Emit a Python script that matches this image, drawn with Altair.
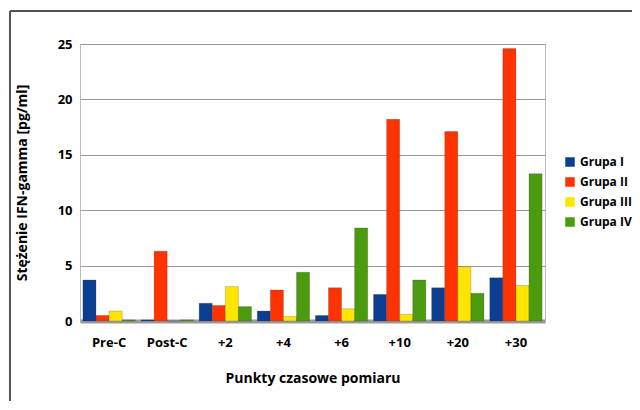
import altair as alt
import pandas as pd

categories = ["Pre-C", "Post-C", "+2", "+4", "+6", "+10", "+20", "+30"]
groups = ["Grupa I", "Grupa II", "Grupa III", "Grupa IV"]
grupa_1 = [3.7, 0.1, 1.6, 0.9, 0.5, 2.4, 3.0, 3.9]
grupa_2 = [0.5, 6.3, 1.4, 2.8, 3.0, 18.2, 17.1, 24.6]
grupa_3 = [0.9, 0.0, 3.1, 0.4, 1.1, 0.6, 4.9, 3.2]
grupa_4 = [0.1, 0.1, 1.3, 4.4, 8.4, 3.7, 2.5, 13.3]
colors = ["#0b3d91", "#ff3300", "#ffe600", "#4c9a0e"]

rows = []
for g, vals in zip(groups, [grupa_1, grupa_2, grupa_3, grupa_4]):
    for c, v in zip(categories, vals):
        rows.append({"cat": c, "grp": g, "val": v})
df = pd.DataFrame(rows)

font = "Open Sans"

bars = alt.Chart(df).mark_bar(stroke="#333333", strokeWidth=0.4, strokeOpacity=0.6).encode(
    x=alt.X("cat:N", sort=categories, title="Punkty czasowe pomiaru",
            scale=alt.Scale(paddingInner=0.1, paddingOuter=0.05),
            axis=alt.Axis(labelAngle=0, labelFont=font, labelFontWeight="bold", labelFontSize=13,
                          labelColor="#000", labelPadding=15, ticks=False, labelOverlap=False,
                          domainColor="#999999", domainWidth=4,
                          titleFont=font, titleFontWeight="bold", titleFontSize=14,
                          titleColor="#000", titlePadding=22)),
    xOffset=alt.XOffset("grp:N", sort=groups),
    y=alt.Y("val:Q", title="Stężenie IFN-gamma [pg/ml]",
            scale=alt.Scale(domain=[0, 25]),
            axis=alt.Axis(values=[0, 5, 10, 15, 20, 25], labelFont=font, labelFontWeight="bold",
                          labelFontSize=13, labelColor="#000", labelPadding=8, ticks=False,
                          domain=False, gridColor="#999999", gridWidth=1.2,
                          titleFont=font, titleFontWeight="bold", titleFontSize=14,
                          titleColor="#000", titlePadding=28)),
    color=alt.Color("grp:N", sort=groups, scale=alt.Scale(domain=groups, range=colors),
                    legend=alt.Legend(title=None, orient="none", legendX=484, legendY=112,
                                      symbolType="square", symbolSize=90, symbolStrokeWidth=0,
                                      labelFont=font, labelFontWeight="bold", labelFontSize=12,
                                      labelColor="#000", rowPadding=8)),
)

frame_left = alt.Chart(df).mark_rule(color="#555555", strokeWidth=1.5).encode(
    x=alt.value(-70), y=alt.value(-33), y2=alt.value(380))
frame_top = alt.Chart(df).mark_rule(color="#555555", strokeWidth=1.5).encode(
    x=alt.value(-70), x2=alt.value(560), y=alt.value(-33))

chart = alt.layer(bars, frame_left, frame_top).properties(
    width=465, height=277, autosize="none",
    padding={"left": 72, "top": 36, "right": 87, "bottom": 80}
).configure_view(stroke="#bbbbbb", strokeWidth=1)

chart.save("out.html", embed_options={"renderer": "svg", "actions": False})
